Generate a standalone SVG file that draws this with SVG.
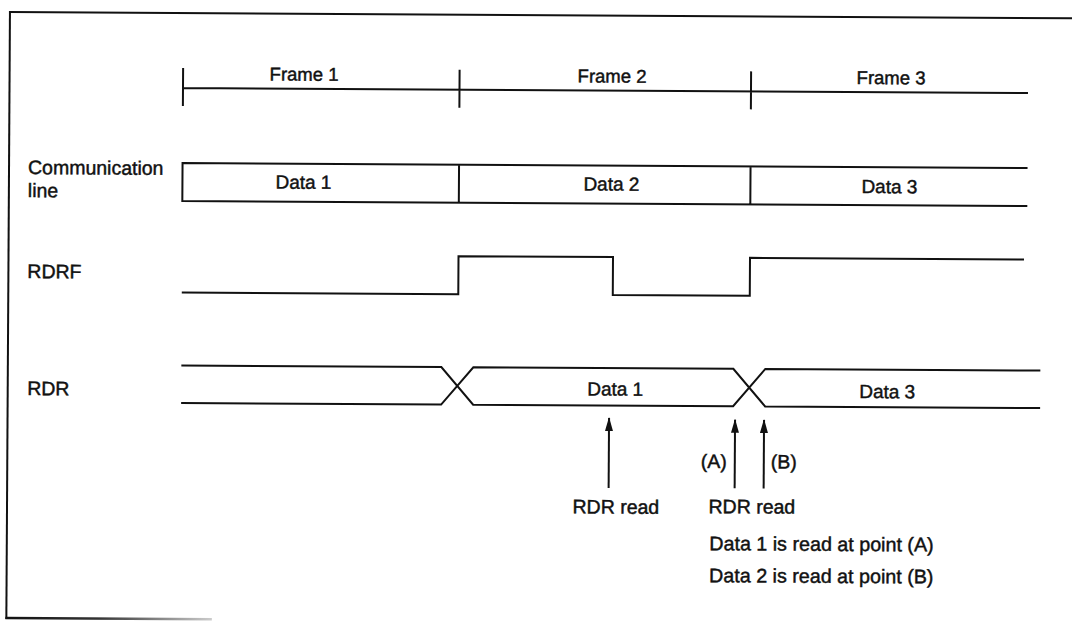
<svg xmlns="http://www.w3.org/2000/svg" width="1072" height="621" viewBox="0 0 1072 621">
<defs>
<style>
.ln{fill:none;stroke:#111;stroke-width:2;stroke-linejoin:miter}
.t{font-family:"Liberation Sans",Arial,Helvetica,sans-serif;font-size:19.5px;fill:#111;stroke:#111;stroke-width:0.45}
.f{font-size:18.5px}
.d{font-size:19px}
.n{font-size:19.7px}
.c{text-anchor:middle}
.e{text-anchor:end}
.arr{fill:none;stroke:#111;stroke-width:2;marker-end:url(#ah)}
</style>
<marker id="ah" viewBox="0 0 14 8" refX="13" refY="4" markerWidth="14" markerHeight="8" orient="auto" markerUnits="userSpaceOnUse">
<path d="M0,0 L14,4 L0,8 Z" fill="#111"/>
</marker>
<linearGradient id="fade" gradientUnits="userSpaceOnUse" x1="8" y1="0" x2="215" y2="0">
<stop offset="0" stop-color="#111"/>
<stop offset="0.45" stop-color="#333"/>
<stop offset="1" stop-color="#ccc"/>
</linearGradient>
</defs>
<rect width="1072" height="621" fill="#fff"/>
<g transform="rotate(0.34 183 88)">
<g id="border">
<path class="ln" d="M9.5,13 H1080" stroke-width="2.5"/>
<path class="ln" d="M9.5,12 V620" stroke-width="2.5"/>
<path d="M8.5,619 H215" fill="none" stroke="url(#fade)" stroke-width="2.5"/>
</g>
<g id="frames">
<path class="ln" d="M183,88 H1028 M183,68 V106 M459.5,68 V106 M751,68 V106"/>
<text class="t f c" x="304" y="80">Frame 1</text>
<text class="t f c" x="612" y="80">Frame 2</text>
<text class="t f c" x="891" y="80">Frame 3</text>
</g>
<g id="communication-line">
<text class="t" x="28.5" y="175">Communication</text>
<text class="t" x="28.5" y="198">line</text>
<path class="ln" d="M1028,163 H183 V201 H1028 M459.5,163 V201 M751,163 V201"/>
<text class="t d c" x="304" y="188">Data 1</text>
<text class="t d c" x="612" y="188">Data 2</text>
<text class="t d c" x="890" y="189">Data 3</text>
</g>
<g id="rdrf">
<text class="t" x="28.5" y="279">RDRF</text>
<path class="ln" d="M183,292.5 H459.5 V254.5 H614 V292.5 H751 V254.5 H1025"/>
</g>
<g id="rdr">
<text class="t" x="29" y="396">RDR</text>
<path class="ln" d="M183,365.5 H443 L475,403 H735 L767,365.5 H1042 M183,403 H443 L475,365.5 H735 L767,403 H1042"/>
<text class="t d c" x="617" y="393">Data 1</text>
<text class="t d c" x="889" y="394">Data 3</text>
</g>
<g id="connectors">
<line class="arr" x1="611" y1="485.5" x2="611" y2="415.5"/>
<line class="arr" x1="737" y1="485" x2="737" y2="416.5"/>
<line class="arr" x1="766" y1="485" x2="766" y2="416.5"/>
</g>
<g id="read-labels">
<text class="t" x="729" y="465" text-anchor="end">(A)</text>
<text class="t" x="773" y="465">(B)</text>
<text class="t" x="575" y="511">RDR read</text>
<text class="t" x="711" y="510">RDR read</text>
<text class="t n" x="712" y="547">Data 1 is read at point (A)</text>
<text class="t n" x="712" y="579">Data 2 is read at point (B)</text>
</g>
</g>
</svg>
